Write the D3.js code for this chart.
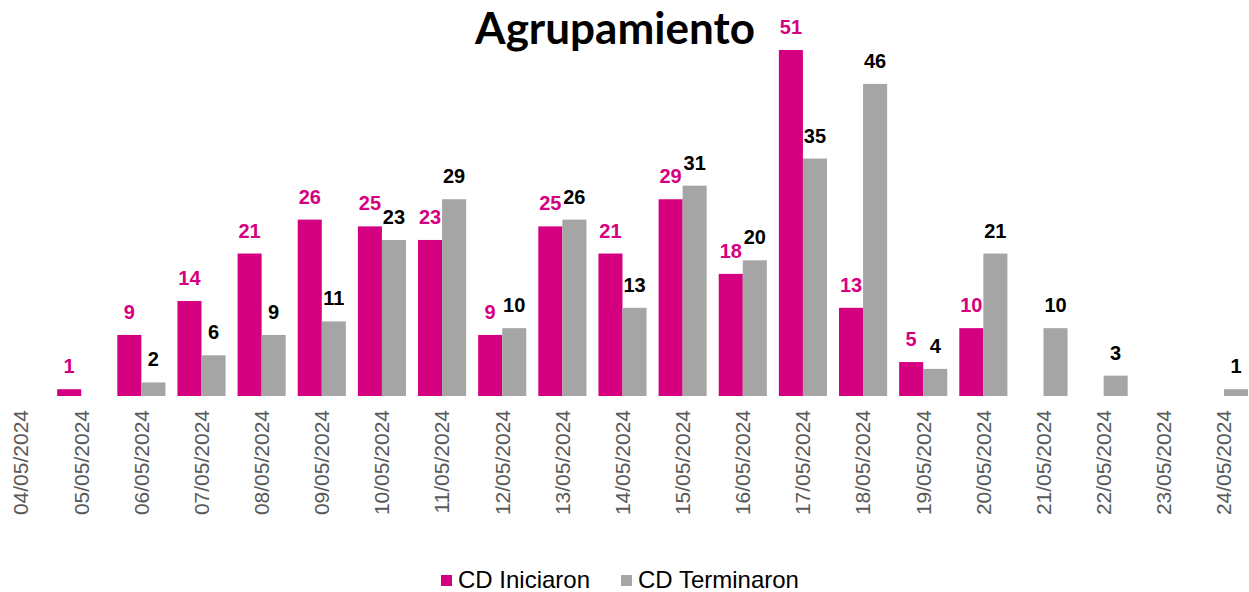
<!DOCTYPE html>
<html>
<head>
<meta charset="utf-8">
<script src="https://cdn.jsdelivr.net/npm/d3@7"></script>
<style>
  html, body { margin: 0; padding: 0; background: #fff; }
  svg { display: block; }
</style>
</head>
<body>
<svg id="chart" width="1249" height="592"></svg>
<script>
const dates = ["04/05/2024","05/05/2024","06/05/2024","07/05/2024","08/05/2024","09/05/2024","10/05/2024","11/05/2024","12/05/2024","13/05/2024","14/05/2024","15/05/2024","16/05/2024","17/05/2024","18/05/2024","19/05/2024","20/05/2024","21/05/2024","22/05/2024","23/05/2024","24/05/2024"];
const iniciaron = [null,1,9,14,21,26,25,23,9,25,21,29,18,51,13,5,10,null,null,null,null];
const terminaron = [null,null,2,6,9,11,23,29,10,26,13,31,20,35,46,4,21,10,3,null,1];
const seriesNames = ["CD Iniciaron","CD Terminaron"];
const seriesColors = ["#D5007F","#A5A5A5"];
const labelColors = ["#D5007F","#000000"];

const svg = d3.select("#chart");
const baseline = 396;

const x = d3.scaleBand().domain(dates).range([-9, 1254]).paddingInner(0.2).paddingOuter(0.1);
const x1 = d3.scaleBand().domain(seriesNames).range([0, x.bandwidth()]).padding(0);
const y = d3.scaleLinear().domain([0, 51]).range([baseline, 50]);

const seriesData = [iniciaron, terminaron];

// Title
svg.append("text")
  .attr("x", 615).attr("y", 44)
  .attr("text-anchor", "middle")
  .style("font-family", "Lato, 'Open Sans', sans-serif")
  .style("font-weight", "bold")
  .style("font-size", "44px")
  .attr("fill", "#000")
  .text("Agrupamiento");

// Bars and labels
seriesData.forEach((vals, si) => {
  const g = svg.append("g");
  const items = dates.map((d, i) => ({d, v: vals[i]})).filter(o => o.v !== null);
  g.selectAll("rect").data(items).enter().append("rect")
    .attr("x", o => x(o.d) + x1(seriesNames[si]))
    .attr("width", x1.bandwidth())
    .attr("y", o => y(o.v))
    .attr("height", o => baseline - y(o.v))
    .attr("fill", seriesColors[si]);
  g.selectAll("text").data(items).enter().append("text")
    .attr("x", o => x(o.d) + x1(seriesNames[si]) + x1.bandwidth() / 2)
    .attr("y", o => y(o.v) - 16)
    .attr("text-anchor", "middle")
    .style("font-family", "'Liberation Sans', Arial, sans-serif")
    .style("font-weight", "bold")
    .style("font-size", "20px")
    .attr("fill", labelColors[si])
    .text(o => o.v);
});

// X axis labels
const xAxis = d3.axisBottom(x).tickSize(0).tickPadding(0);
const ax = svg.append("g").attr("transform", `translate(0,${baseline})`).call(xAxis);
ax.select(".domain").remove();
ax.selectAll(".tick text")
  .attr("transform", "rotate(-90)")
  .attr("x", -14)
  .attr("y", 0)
  .attr("dy", "0.35em")
  .attr("text-anchor", "end")
  .style("font-family", "'Liberation Sans', Arial, sans-serif")
  .style("font-size", "21px")
  .attr("fill", "#595959");

// Legend
const legend = svg.append("g");
const legendX = [441, 621];
seriesNames.forEach((n, i) => {
  legend.append("rect")
    .attr("x", legendX[i]).attr("y", 575)
    .attr("width", 11).attr("height", 11)
    .attr("fill", seriesColors[i]);
  legend.append("text")
    .attr("x", legendX[i] + 17).attr("y", 588)
    .style("font-family", "'Liberation Sans', Arial, sans-serif")
    .style("font-size", "24px")
    .attr("fill", "#000")
    .text(n);
});
</script>
</body>
</html>
